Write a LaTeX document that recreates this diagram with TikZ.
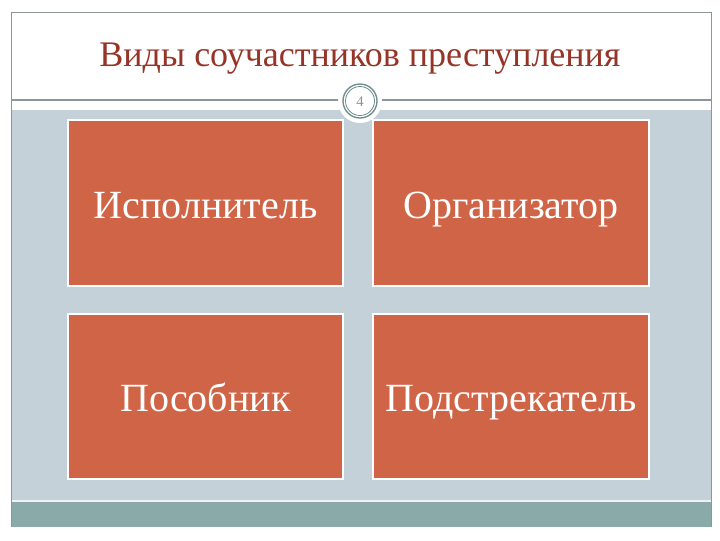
\documentclass[tikz,border=0pt]{standalone}
\usepackage{fontspec}
\setmainfont{Liberation Serif}
\definecolor{boxred}{RGB}{208,100,70}
\definecolor{titlered}{RGB}{150,52,40}
\definecolor{bodygray}{RGB}{197,209,217}
\definecolor{bandteal}{RGB}{138,170,170}
\definecolor{ringteal}{RGB}{110,140,140}
\definecolor{framegray}{RGB}{140,150,150}
\tikzset{
  cell/.style={draw=white,line width=0.8pt,fill=boxred},
  celltext/.style={text=white,font=\fontsize{30}{33}\selectfont,text height=20pt,text depth=0pt}
}
\begin{document}
\begin{tikzpicture}[x=0.75pt,y=0.75pt,yscale=-1,xscale=1]
\useasboundingbox (0,0) rectangle (720,540);
\fill[white] (0,0) rectangle (720,540);

%Shape: Rectangle [id:body]
\fill[bodygray] (11,110) rectangle (711,500);
%Shape: Rectangle [id:band]
\fill[bandteal] (11,502) rectangle (711,527);
\draw[white!70!bodygray,line width=0.8pt] (11,501) -- (711,501);
%Straight Lines [id:frame]
\draw[framegray,line width=0.6pt] (11,527) -- (11,12) -- (711,12) -- (711,527);
%Straight Lines [id:rule]
\draw[framegray,line width=0.8pt] (11,100) -- (711,100);

% Boxes
\draw[cell] (68,120) rectangle (343,286);
\draw[cell] (373,120) rectangle (649,286);
\draw[cell] (68,314) rectangle (343,479);
\draw[cell] (373,314) rectangle (649,479);

% Text Node
\draw (205.5,205) node[celltext] (ispoln) {Исполнитель};
% Text Node
\draw (511,205) node[celltext] (organ) {Организатор};
% Text Node
\draw (205.5,398) node[celltext] (posob) {Пособник};
% Text Node
\draw (511,398) node[celltext] (podstr) {Подстрекатель};

%Shape: Circle [id:badge]
\fill[white] (360,101) circle (22);
\draw[ringteal,line width=1pt] (360,101) circle (17);
\draw[ringteal,line width=0.6pt] (360,101) circle (14.5);

% Text Node
\draw (360,102) node[text=framegray,font=\fontsize{11}{13}\selectfont] (num) {4};
% Text Node
\draw (360,59) node[text=titlered,font=\fontsize{27}{30}\selectfont] (title) {Виды соучастников преступления};

\end{tikzpicture}
\end{document}
